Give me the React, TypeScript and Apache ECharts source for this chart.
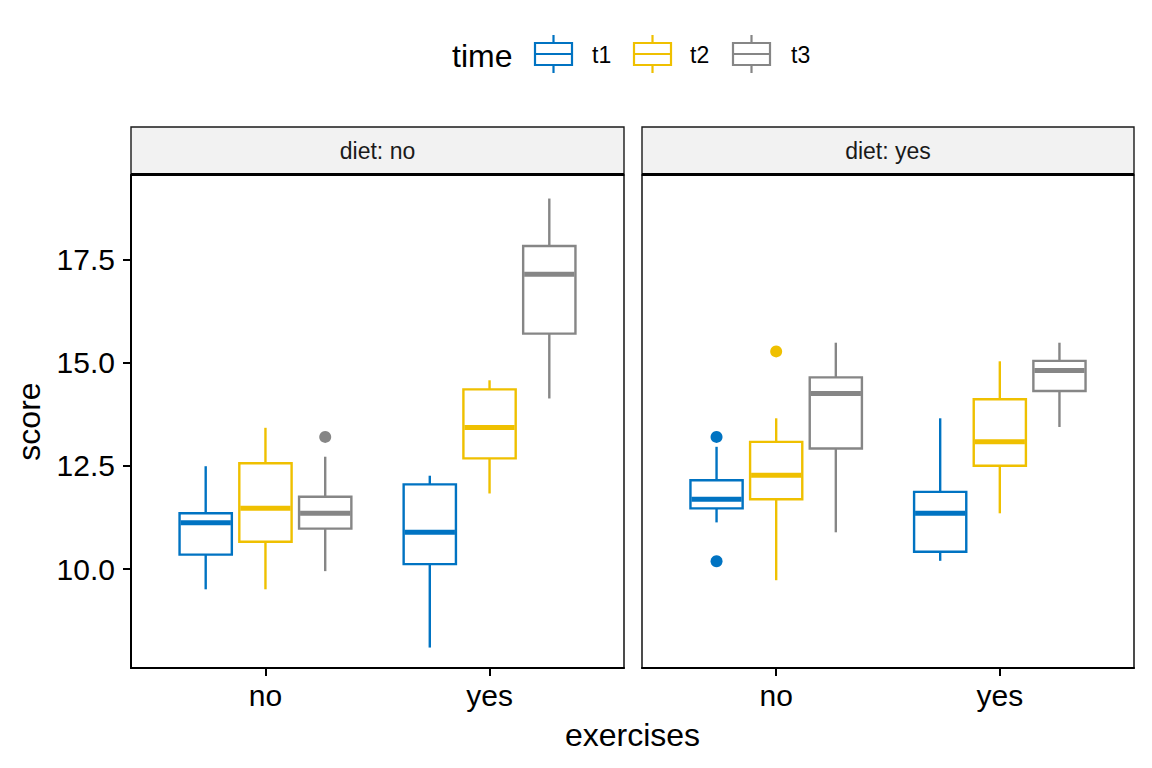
import React, { useEffect, useRef } from "react";
import * as echarts from "echarts";

// ---- data ----
const exercises = ["no", "yes"];
const facets = ["diet: no", "diet: yes"];
const times = ["t1", "t2", "t3"];
const timeColors = ["#0073C2", "#EFC000", "#868686"];
const yTicks = [10, 12.5, 15, 17.5];

// box stats: [min, q1, median, q3, max] for exercises = no, yes
const dietNoT1 = [
  [9.51, 10.35, 11.12, 11.35, 12.49],
  [8.1, 10.12, 10.89, 12.05, 12.26],
];
const dietNoT2 = [
  [9.51, 10.66, 11.47, 12.56, 13.42],
  [11.83, 12.68, 13.43, 14.35, 14.57],
];
const dietNoT3 = [
  [9.95, 10.98, 11.35, 11.75, 12.72],
  [14.13, 15.7, 17.14, 17.82, 18.97],
];
const dietYesT1 = [
  [11.13, 11.47, 11.69, 12.15, 12.96],
  [10.2, 10.42, 11.35, 11.87, 13.65],
];
const dietYesT2 = [
  [9.73, 11.69, 12.27, 13.08, 13.65],
  [11.35, 12.5, 13.08, 14.11, 15.03],
];
const dietYesT3 = [
  [10.89, 12.92, 14.25, 14.64, 15.48],
  [13.44, 14.31, 14.81, 15.04, 15.48],
];

// outliers: [exercise index, value]
const dietNoOutT1: number[][] = [];
const dietNoOutT2: number[][] = [];
const dietNoOutT3 = [[0, 13.2]];
const dietYesOutT1 = [
  [0, 13.2],
  [0, 10.19],
];
const dietYesOutT2 = [[0, 15.27]];
const dietYesOutT3: number[][] = [];

const statsTable = [
  [dietNoT1, dietNoT2, dietNoT3],
  [dietYesT1, dietYesT2, dietYesT3],
];
const outTable = [
  [dietNoOutT1, dietNoOutT2, dietNoOutT3],
  [dietYesOutT1, dietYesOutT2, dietYesOutT3],
];

// ---- layout ----
const FONT = "'Liberation Sans', Arial, Helvetica, sans-serif";
const PANEL_L = [131, 642];
const PANEL_W = [493, 492];
const PANEL_T = 175;
const PANEL_H = 493;
const STRIP_T = 127;
const DODGE = 0.8 / 3;
const HALF_W = 0.7 / 3 / 2;
const BOX_LW = 2.4;
const MED_LW = 5;

function buildOption() {
  const grids = PANEL_L.map((l, i) => ({
    left: l,
    top: PANEL_T,
    width: PANEL_W[i],
    height: PANEL_H,
    show: true,
    borderColor: "#000",
    borderWidth: 1.4,
    backgroundColor: "#fff",
  }));

  const xAxes = PANEL_L.map((_, i) => ({
    type: "value",
    gridIndex: i,
    min: 0.4,
    max: 2.6,
    splitLine: { show: false },
    axisLine: { show: true, onZero: false, lineStyle: { color: "#000", width: 2 } },
    axisTick: {
      show: true,
      length: 8,
      customValues: exercises.map((_, k) => k + 1),
      lineStyle: { color: "#000", width: 2 },
    },
    axisLabel: {
      show: true,
      customValues: exercises.map((_, k) => k + 1),
      formatter: (v: number) => exercises[Math.round(v) - 1] ?? "",
      color: "#000",
      fontSize: 30,
      fontFamily: FONT,
      margin: 12,
    },
  }));

  const yAxes = PANEL_L.map((_, i) => ({
    type: "value",
    gridIndex: i,
    min: 7.605,
    max: 19.54,
    splitLine: { show: false },
    axisLine: { show: i === 0, onZero: false, lineStyle: { color: "#000", width: 2 } },
    axisTick: {
      show: i === 0,
      length: 8,
      customValues: yTicks,
      lineStyle: { color: "#000", width: 2 },
    },
    axisLabel: {
      show: i === 0,
      customValues: yTicks,
      formatter: (v: number) => v.toFixed(1),
      color: "#000",
      fontSize: 30,
      fontFamily: FONT,
      margin: 16,
    },
  }));

  const series: any[] = [];
  for (let f = 0; f < facets.length; f++) {
    for (let t = 0; t < times.length; t++) {
      const color = timeColors[t];
      const data = statsTable[f][t].map((s, e) => [e + 1 + (t - 1) * DODGE, ...s]);
      series.push({
        type: "custom",
        name: times[t],
        xAxisIndex: f,
        yAxisIndex: f,
        itemStyle: { color },
        encode: { x: 0, y: [1, 2, 3, 4, 5] },
        data,
        renderItem: (_params: any, api: any) => {
          const x = api.value(0);
          const mn = api.value(1);
          const q1 = api.value(2);
          const md = api.value(3);
          const q3 = api.value(4);
          const mx = api.value(5);
          const c = api.coord([x, md]);
          const tl = api.coord([x - HALF_W, q3]);
          const br = api.coord([x + HALF_W, q1]);
          const yMax = api.coord([x, mx])[1];
          const yMin = api.coord([x, mn])[1];
          const stroke = { stroke: color, lineWidth: BOX_LW };
          return {
            type: "group",
            children: [
              { type: "line", shape: { x1: c[0], y1: yMax, x2: c[0], y2: tl[1] }, style: stroke },
              { type: "line", shape: { x1: c[0], y1: br[1], x2: c[0], y2: yMin }, style: stroke },
              {
                type: "rect",
                shape: { x: tl[0], y: tl[1], width: br[0] - tl[0], height: br[1] - tl[1] },
                style: { fill: "#fff", stroke: color, lineWidth: BOX_LW },
              },
              {
                type: "line",
                shape: { x1: tl[0] + 1, y1: c[1], x2: br[0] - 1, y2: c[1] },
                style: { stroke: color, lineWidth: MED_LW },
              },
            ],
          };
        },
      });
      const outs = outTable[f][t];
      if (outs.length) {
        series.push({
          type: "scatter",
          name: times[t],
          xAxisIndex: f,
          yAxisIndex: f,
          symbol: "circle",
          symbolSize: 12,
          itemStyle: { color, opacity: 1 },
          data: outs.map(([e, v]) => [e + 1 + (t - 1) * DODGE, v]),
          z: 3,
        });
      }
    }
  }

  const graphics: any[] = [];
  // facet strips
  facets.forEach((label, i) => {
    graphics.push({
      type: "rect",
      shape: { x: PANEL_L[i], y: STRIP_T, width: PANEL_W[i], height: PANEL_T - STRIP_T },
      style: { fill: "#F2F2F2", stroke: "#1a1a1a", lineWidth: 1.4 },
    });
    graphics.push({
      type: "line",
      shape: { x1: PANEL_L[i], y1: PANEL_T - 0.5, x2: PANEL_L[i] + PANEL_W[i], y2: PANEL_T - 0.5 },
      style: { stroke: "#000", lineWidth: 3.2 },
    });
    graphics.push({
      type: "text",
      x: PANEL_L[i] + PANEL_W[i] / 2,
      y: 151,
      style: {
        text: label,
        fontSize: 23,
        fontFamily: FONT,
        fill: "#1a1a1a",
        align: "center",
        verticalAlign: "middle",
      },
    });
  });

  // axis titles
  graphics.push({
    type: "text",
    x: (PANEL_L[0] + PANEL_L[1] + PANEL_W[1]) / 2,
    y: 735,
    style: {
      text: "exercises",
      fontSize: 32,
      fontFamily: FONT,
      fill: "#000",
      align: "center",
      verticalAlign: "middle",
    },
  });
  graphics.push({
    type: "text",
    x: 29,
    y: PANEL_T + PANEL_H / 2,
    rotation: Math.PI / 2,
    style: {
      text: "score",
      fontSize: 32,
      fontFamily: FONT,
      fill: "#000",
      align: "center",
      verticalAlign: "middle",
    },
  });

  // legend
  graphics.push({
    type: "text",
    x: 452,
    y: 56,
    style: {
      text: "time",
      fontSize: 32,
      fontFamily: FONT,
      fill: "#000",
      align: "left",
      verticalAlign: "middle",
    },
  });
  const keyX = [535, 634, 733];
  const labX = [592, 690, 791];
  times.forEach((tm, t) => {
    const col = timeColors[t];
    const cx = keyX[t] + 18.5;
    graphics.push({
      type: "group",
      children: [
        { type: "line", shape: { x1: cx, y1: 35, x2: cx, y2: 43 }, style: { stroke: col, lineWidth: 2.2 } },
        { type: "line", shape: { x1: cx, y1: 65, x2: cx, y2: 73 }, style: { stroke: col, lineWidth: 2.2 } },
        {
          type: "rect",
          shape: { x: keyX[t], y: 43, width: 37, height: 22 },
          style: { fill: "#fff", stroke: col, lineWidth: 2.2 },
        },
        {
          type: "line",
          shape: { x1: keyX[t], y1: 54, x2: keyX[t] + 37, y2: 54 },
          style: { stroke: col, lineWidth: 2.2 },
        },
        {
          type: "text",
          x: labX[t],
          y: 55,
          style: {
            text: tm,
            fontSize: 23,
            fontFamily: FONT,
            fill: "#000",
            align: "left",
            verticalAlign: "middle",
          },
        },
      ],
    });
  });

  return {
    animation: false,
    backgroundColor: "#fff",
    textStyle: { fontFamily: FONT },
    grid: grids,
    xAxis: xAxes,
    yAxis: yAxes,
    series,
    graphic: graphics,
  };
}

export default function App() {
  const ref = useRef<HTMLDivElement>(null);
  useEffect(() => {
    if (!ref.current) return;
    const chart = echarts.init(ref.current, null, { renderer: "svg" });
    chart.setOption(buildOption() as any);
    return () => chart.dispose();
  }, []);
  return (
    <div
      ref={ref}
      style={{ position: "fixed", left: 0, top: 0, width: 1152, height: 768, background: "#fff" }}
    />
  );
}
